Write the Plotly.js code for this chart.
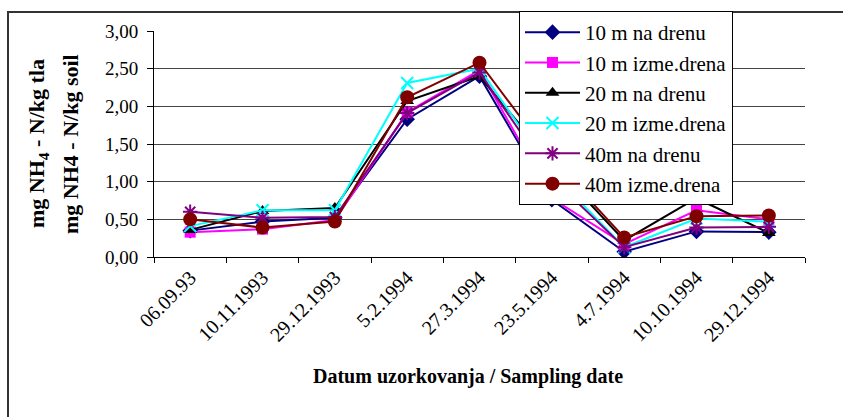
<!DOCTYPE html>
<html>
<head>
<meta charset="utf-8">
<script src="https://cdn.plot.ly/plotly-3.0.1.min.js"></script>
<style>
html,body{margin:0;padding:0;background:#fff;}
#chart{width:843px;height:417px;}
</style>
</head>
<body>
<div id="chart"></div>
<script>
const categories = ["06.09.93", "10.11.1993", "29.12.1993", "5.2.1994", "27.3.1994", "23.5.1994", "4.7.1994", "10.10.1994", "29.12.1994"];
const seriesNames = ["10 m na drenu", "10 m izme.drena", "20 m na drenu", "20 m izme.drena", "40m na drenu", "40m izme.drena"];
const s10naDrenu   = [0.35, 0.47, 0.52, 1.83, 2.40, 0.76, 0.07, 0.34, 0.33];
const s10izmeDrena = [0.33, 0.37, 0.49, 1.92, 2.48, 0.78, 0.17, 0.62, 0.50];
const s20naDrenu   = [0.36, 0.61, 0.65, 2.07, 2.40, 1.25, 0.22, 0.78, 0.32];
const s20izmeDrena = [0.41, 0.62, 0.62, 2.31, 2.50, 1.12, 0.13, 0.51, 0.47];
const s40naDrenu   = [0.60, 0.52, 0.53, 1.91, 2.45, 1.05, 0.13, 0.39, 0.40];
const s40izmeDrena = [0.50, 0.39, 0.47, 2.12, 2.58, 1.30, 0.26, 0.54, 0.55];
const yTickVals = [0, 0.5, 1, 1.5, 2, 2.5, 3];

const seriesValues = [s10naDrenu, s10izmeDrena, s20naDrenu, s20izmeDrena, s40naDrenu, s40izmeDrena];
const styles = [
  {color: "#000080", symbol: "diamond", size: 12, open: false},
  {color: "#FF00FF", symbol: "square", size: 11, open: false},
  {color: "#000000", symbol: "triangle-up", size: 12, open: false},
  {color: "#00FFFF", symbol: "x-thin-open", size: 12, open: true},
  {color: "#800080", symbol: "asterisk-open", size: 12, open: true},
  {color: "#800000", symbol: "circle", size: 14, open: false}
];
const FONT = "Liberation Serif";

const traces = seriesValues.map((vals, i) => {
  const st = styles[i];
  return {
    type: "scatter",
    mode: "lines+markers",
    name: seriesNames[i],
    x: categories,
    y: vals,
    line: {color: st.color, width: 2},
    marker: st.open
      ? {symbol: st.symbol, size: st.size, color: st.color, line: {color: st.color, width: 2}}
      : {symbol: st.symbol, size: st.size, color: st.color, line: {width: 0}}
  };
});

const L = 154, R = 805, T = 30, B = 257, W = 843, H = 417;
const px2x = p => (p - L) / (R - L);
const py2y = p => (B - p) / (B - T);

const layout = {
  width: W, height: H,
  margin: {l: L, r: W - R, t: T, b: H - B, pad: 0},
  paper_bgcolor: "#fff",
  plot_bgcolor: "#fff",
  separators: ", ",
  font: {family: FONT, color: "#000", size: 18},
  showlegend: true,
  legend: {
    x: px2x(519), y: py2y(11), xanchor: "left", yanchor: "top",
    bgcolor: "#fff", bordercolor: "#000", borderwidth: 1,
    font: {family: FONT, size: 21, color: "#000"},
    itemwidth: 55,
    tracegroupgap: 0
  },
  xaxis: {
    type: "category",
    range: [-0.5, categories.length - 0.5],
    tickson: "boundaries",
    ticks: "outside", ticklen: 5, tickcolor: "#000", tickwidth: 1,
    showline: true, linecolor: "#000", linewidth: 1,
    showgrid: false, zeroline: false,
    tickangle: -45,
    tickfont: {family: FONT, size: 20, color: "#000"},
    fixedrange: true
  },
  yaxis: {
    range: [0, 3],
    tickvals: yTickVals,
    tickformat: ".2f",
    ticks: "outside", ticklen: 6, tickcolor: "#000", tickwidth: 1,
    ticklabelstandoff: 5,
    showline: true, linecolor: "#000", linewidth: 1,
    showgrid: true, gridcolor: "#444", gridwidth: 1,
    zeroline: false,
    tickfont: {family: FONT, size: 19, color: "#000"},
    fixedrange: true
  },
  annotations: [
    {text: "<b>mg NH<sub>4</sub> - N/kg tla</b>", xref: "paper", yref: "paper", x: px2x(38), y: 0.5,
     xanchor: "center", yanchor: "middle", textangle: -90, showarrow: false,
     font: {family: FONT, size: 22, color: "#000"}},
    {text: "<b>mg NH4 - N/kg soil</b>", xref: "paper", yref: "paper", x: px2x(70), y: 0.5,
     xanchor: "center", yanchor: "middle", textangle: -90, showarrow: false,
     font: {family: FONT, size: 22, color: "#000"}},
    {text: "<b>Datum uzorkovanja / Sampling date</b>", xref: "paper", yref: "paper", x: px2x(468), y: py2y(377),
     xanchor: "center", yanchor: "middle", showarrow: false,
     font: {family: FONT, size: 20, color: "#000"}}
  ],
  shapes: [
    {type: "rect", xref: "paper", yref: "paper", x0: px2x(8), y0: py2y(430), x1: px2x(860), y1: py2y(11),
     line: {color: "#333", width: 2}, fillcolor: "rgba(0,0,0,0)", layer: "below"}
  ]
};

function fixFonts() {
  document.querySelectorAll("#chart .xtick text, #chart .ytick text, #chart .legendtext")
    .forEach(t => t.style.setProperty("font-family", "\"Liberation Serif\", \"Times New Roman\", serif", "important"));
}

Plotly.newPlot("chart", traces, layout, {displayModeBar: false, staticPlot: true}).then(gd => {
  fixFonts();
  if (gd.on) gd.on("plotly_afterplot", fixFonts);
});
</script>
</body>
</html>
